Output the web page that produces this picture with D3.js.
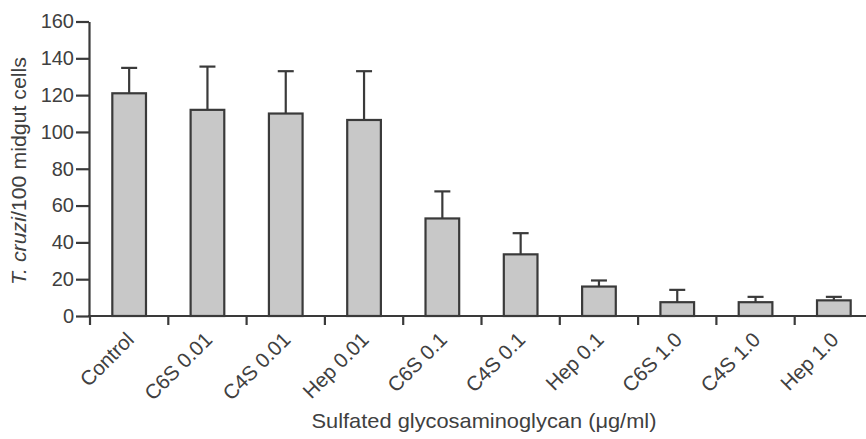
<!DOCTYPE html>
<html><head><meta charset="utf-8">
<script src="https://cdn.jsdelivr.net/npm/d3@7"></script>
<style>body{margin:0;background:#fff}svg{display:block}text,tspan{font-family:"Liberation Sans",Arial,sans-serif;fill:#404040}</style>
</head><body><svg id="c" width="866" height="439"></svg>
<script>
const categories = ["Control","C6S 0.01","C4S 0.01","Hep 0.01","C6S 0.1","C4S 0.1","Hep 0.1","C6S 1.0","C4S 1.0","Hep 1.0"];
const means = [121, 112, 110, 106.5, 53, 33.5, 16, 7.5, 7.5, 8.5];
const errTops = [134.8, 135.5, 133, 133, 67.7, 45, 19.3, 14.2, 10.4, 10.4];
const yTicks = [0,20,40,60,80,100,120,140,160];
const yLabelItalic = "T. cruzi";
const yLabelRest = "/100 midgut cells";
const xTitle = "Sulfated glycosaminoglycan (\u03bcg/ml)";

const svg = d3.select("#c");
const ink = "#3a3a3a";
const txt = "#404040";
const x = d3.scaleBand().domain(categories).range([90, 873]).paddingInner(0.57).paddingOuter(0.285);
const y = d3.scaleLinear().domain([0,160]).range([316, 21.5]);

// bars
svg.append("g").selectAll("rect").data(categories).join("rect")
  .attr("x", d => x(d)).attr("width", x.bandwidth())
  .attr("y", (d,i) => y(means[i])).attr("height", (d,i) => y(0) - y(means[i]))
  .attr("fill", "#c8c8c8").attr("stroke", ink).attr("stroke-width", 2.2);

// error bars
const eb = svg.append("g").attr("stroke", ink).attr("stroke-width", 2.2);
categories.forEach((c,i) => {
  const cx = x(c) + x.bandwidth()/2;
  eb.append("line").attr("x1", cx).attr("x2", cx).attr("y1", y(means[i])).attr("y2", y(errTops[i]));
  eb.append("line").attr("x1", cx-8).attr("x2", cx+8).attr("y1", y(errTops[i])).attr("y2", y(errTops[i]));
});

// y axis
const yAxis = d3.axisLeft(y).tickValues(yTicks).tickSize(13).tickPadding(2).tickSizeOuter(0);
const ga = svg.append("g").attr("transform", "translate(89,0)").call(yAxis);
ga.attr("font-family", null).attr("font-size", null);
ga.select(".domain").attr("stroke", ink).attr("stroke-width", 2.2);
ga.selectAll(".tick line").attr("stroke", ink).attr("stroke-width", 2.2);
ga.selectAll(".tick text").style("font-size", "20px").attr("fill", txt);

// x axis baseline and ticks at band boundaries
const step = x.step();
const r0 = x.range()[0];
svg.append("line").attr("x1", 88).attr("x2", 873).attr("y1", y(0)).attr("y2", y(0)).attr("stroke", ink).attr("stroke-width", 2.2);
svg.append("g").selectAll("line").data(d3.range(categories.length+1)).join("line")
  .attr("x1", i => r0 + i*step).attr("x2", i => r0 + i*step)
  .attr("y1", y(0)).attr("y2", y(0)+9).attr("stroke", ink).attr("stroke-width", 2.2);

// x labels
svg.append("g").selectAll("text").data(categories).join("text")
  .attr("transform", d => `translate(${x(d)+x.bandwidth()/2+6},${y(0)+25}) rotate(-45)`)
  .attr("text-anchor", "end").style("font-size", "20.5px").attr("fill", txt).text(d => d);

// x title
svg.append("text").attr("x", 484).attr("y", 428).attr("text-anchor", "middle")
  .attr("textLength", 345).attr("lengthAdjust", "spacingAndGlyphs")
  .style("font-size", "21px").attr("fill", txt).text(xTitle);

// y label
const yl = svg.append("text").attr("transform", "translate(26,171) rotate(-90)").attr("text-anchor", "middle")
  .attr("textLength", 228).attr("lengthAdjust", "spacingAndGlyphs").style("font-size", "21px").attr("fill", txt);
yl.append("tspan").style("font-style", "italic").attr("fill", txt).text(yLabelItalic);
yl.append("tspan").attr("fill", txt).text(yLabelRest);
</script></body></html>
